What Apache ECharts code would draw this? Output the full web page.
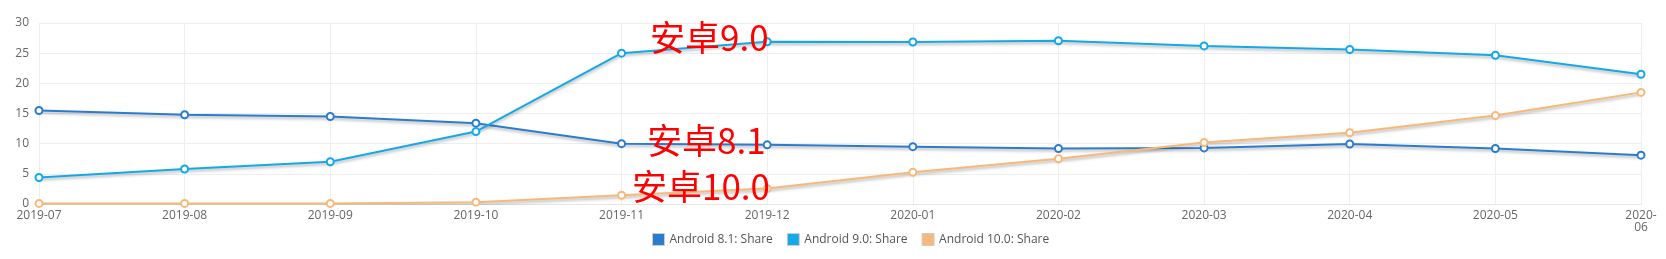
<!DOCTYPE html>
<html><head><meta charset="utf-8">
<script src="https://cdn.jsdelivr.net/npm/echarts@6/dist/echarts.min.js"></script>
<style>html,body{margin:0;padding:0;background:#fff}#c{width:1666px;height:259px}</style>
</head><body><div id="c"></div>
<script>
const categories = ['2019-07','2019-08','2019-09','2019-10','2019-11','2019-12','2020-01','2020-02','2020-03','2020-04','2020-05','2020-06'];
const android81 = [15.5,14.8,14.5,13.4,10.0,9.8,9.5,9.2,9.3,9.95,9.2,8.1];
const android90 = [4.4,5.8,7.0,12.0,25.0,26.9,26.85,27.05,26.2,25.6,24.65,21.5];
const android100 = [0.1,0.1,0.1,0.3,1.45,2.55,5.25,7.5,10.2,11.8,14.65,18.5];
const seriesNames = ['Android 8.1: Share','Android 9.0: Share','Android 10.0: Share'];
const colors = ['#2b7bcf','#13a9e8','#f8b878'];
const yTicks = [0,5,10,15,20,25,30];
const annotations = [
  {text:'安卓9.0', x:650, y:20},
  {text:'安卓8.1', x:647, y:123},
  {text:'安卓10.0', x:632, y:169}
];

const chart = echarts.init(document.getElementById('c'));
const dataSets = [android81, android90, android100];
chart.setOption({
  animation:false,
  color: colors,
  grid:{left:39,right:25,top:23,bottom:55},
  legend:{
    bottom:8, left:647, itemWidth:12, itemHeight:12, itemGap:14, icon:'rect',
    textStyle:{color:'#555',fontSize:12,fontFamily:'Open Sans'},
    data: seriesNames.map((n,i)=>({name:n,itemStyle:{color:colors[i],borderColor:'#ccc',borderWidth:1}}))
  },
  xAxis:{
    type:'category', data:categories, boundaryGap:false,
    axisLine:{lineStyle:{color:'#e6e6e6'}}, axisTick:{show:false},
    splitLine:{show:true,lineStyle:{color:'#eee'}},
    axisLabel:{color:'#666',fontSize:12,fontFamily:'Open Sans',margin:6,
      formatter:(v,i)=> i===categories.length-1 ? v.replace('-','-\n') : v}
  },
  yAxis:{
    type:'value', min:yTicks[0], max:yTicks[yTicks.length-1], interval:5,
    axisLine:{show:false}, axisTick:{show:false},
    splitLine:{lineStyle:{color:'#eee'}},
    axisLabel:{color:'#666',fontSize:12,fontFamily:'Open Sans',margin:10}
  },
  series: dataSets.map((d,i)=>({
    name:seriesNames[i], type:'line', data:d,
    symbol:'emptyCircle', symbolSize:7,
    lineStyle:{width:2,shadowColor:'rgba(0,0,0,0.3)',shadowBlur:3,shadowOffsetY:2},
    itemStyle:{borderWidth:2}
  })),
  graphic: annotations.map(a=>({
    type:'text', left:a.x, top:a.y, z:100,
    style:{text:a.text, fill:'#ff0000', fontSize:35, fontFamily:'Noto Sans CJK SC', fontWeight:'normal'}
  }))
});
</script></body></html>
